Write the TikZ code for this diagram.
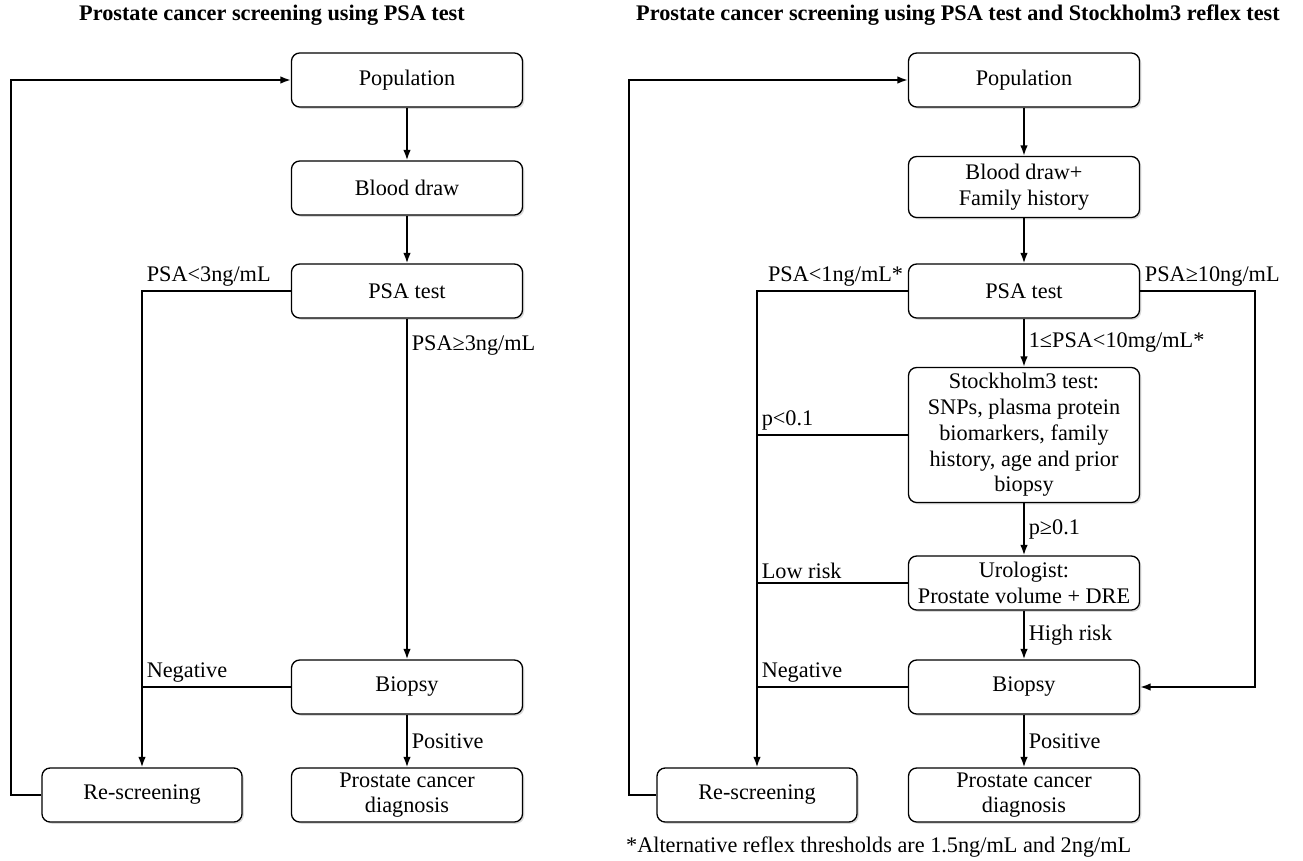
\documentclass[tikz,border=0pt]{standalone}
\usepackage{fontspec}
\setmainfont{Liberation Serif}
\usepackage{tikz}
\usetikzlibrary{arrows.meta,positioning,shadows}
\tikzset{%
	process/.style  = {draw, rectangle, rounded corners=7pt, line width=1.1pt, fill=white, minimum width=6.93cm, minimum height=1.62cm, inner sep=2pt, align=center, text centered, drop shadow={shadow xshift=1.5pt, shadow yshift=-1.5pt, opacity=0.3}},
	arrow/.style    = {line width=1.5pt, -{Latex[length=9pt,width=6.5pt]}},
	line/.style     = {line width=1.5pt},
	heading/.style  = {font=\fontsize{19}{22}\selectfont\bfseries},
}

\begin{document}
\begin{tikzpicture}[x=0.03cm,y=-0.03cm,font=\fontsize{19}{22}\selectfont]
	\useasboundingbox (0,0) rectangle (1303,861);
	% left flowchart
	\node[heading] (title1) at (272,15) {Prostate cancer screening using PSA test};
	\node[process] (pop1) at (407,80) {Population};
	\node[process] (blood1) at (407,188) {Blood draw};
	\node[process] (psa1) at (407,291) {PSA test};
	\node[process] (bio1) at (407,687) {Biopsy};
	\node[process] (diag1) at (407,795) {Prostate cancer\\diagnosis};
	\node[process, minimum width=6cm] (rescr1) at (142,795) {Re-screening};
	\draw[arrow] (pop1) -- (blood1);
	\draw[arrow] (blood1) -- (psa1);
	\draw[arrow] (psa1) -- node[pos=0.08,right] {PSA≥3ng/mL} (bio1);
	\draw[arrow] (bio1) -- node[right] {Positive} (diag1);
	\draw[arrow] (psa1.west) -| node[pos=0.5,above right] {PSA<3ng/mL} (rescr1.north);
	\draw[line] (bio1.west) -- (bio1.west -| rescr1.north) node[above right] {Negative};
	\draw[arrow] (rescr1.west) -- ++(-30,0) |- (pop1.west);
	% right flowchart
	\node[heading] (title2) at (958,15) {Prostate cancer screening using PSA test and Stockholm3 reflex test};
	\node[process] (pop2) at (1024,80) {Population};
	\node[process, minimum height=1.83cm] (blood2) at (1024,187) {Blood draw+\\Family history};
	\node[process] (psa2) at (1024,291) {PSA test};
	\node[process, minimum height=4.05cm] (stock2) at (1024,435) {Stockholm3 test:\\SNPs, plasma protein\\biomarkers, family\\history, age and prior\\biopsy};
	\node[process] (uro2) at (1024,583) {Urologist:\\Prostate volume + DRE};
	\node[process] (bio2) at (1024,687) {Biopsy};
	\node[process] (diag2) at (1024,795) {Prostate cancer\\diagnosis};
	\node[process, minimum width=6cm] (rescr2) at (757,795) {Re-screening};
	\draw[arrow] (pop2) -- (blood2);
	\draw[arrow] (blood2) -- (psa2);
	\draw[arrow] (psa2) -- node[right] {1≤PSA<10mg/mL*} (stock2);
	\draw[arrow] (stock2) -- node[right] {p≥0.1} (uro2);
	\draw[arrow] (uro2) -- node[right] {High risk} (bio2);
	\draw[arrow] (bio2) -- node[right] {Positive} (diag2);
	\draw[arrow] (psa2.west) -| node[pos=0,above left] {PSA<1ng/mL*} (rescr2.north);
	\draw[arrow] (psa2.east) node[above right] {PSA≥10ng/mL} -- ++(115,0) |- (bio2.east);
	\draw[line] (stock2.west) -- (stock2.west -| rescr2.north) node[above right] {p<0.1};
	\draw[line] (uro2.west) -- (uro2.west -| rescr2.north) node[above right] {Low risk};
	\draw[line] (bio2.west) -- (bio2.west -| rescr2.north) node[above right] {Negative};
	\draw[arrow] (rescr2.west) -- ++(-27,0) |- (pop2.west);
	\node[anchor=west] (note2) at (622,847) {*Alternative reflex thresholds are 1.5ng/mL and 2ng/mL};
\end{tikzpicture}
\end{document}
